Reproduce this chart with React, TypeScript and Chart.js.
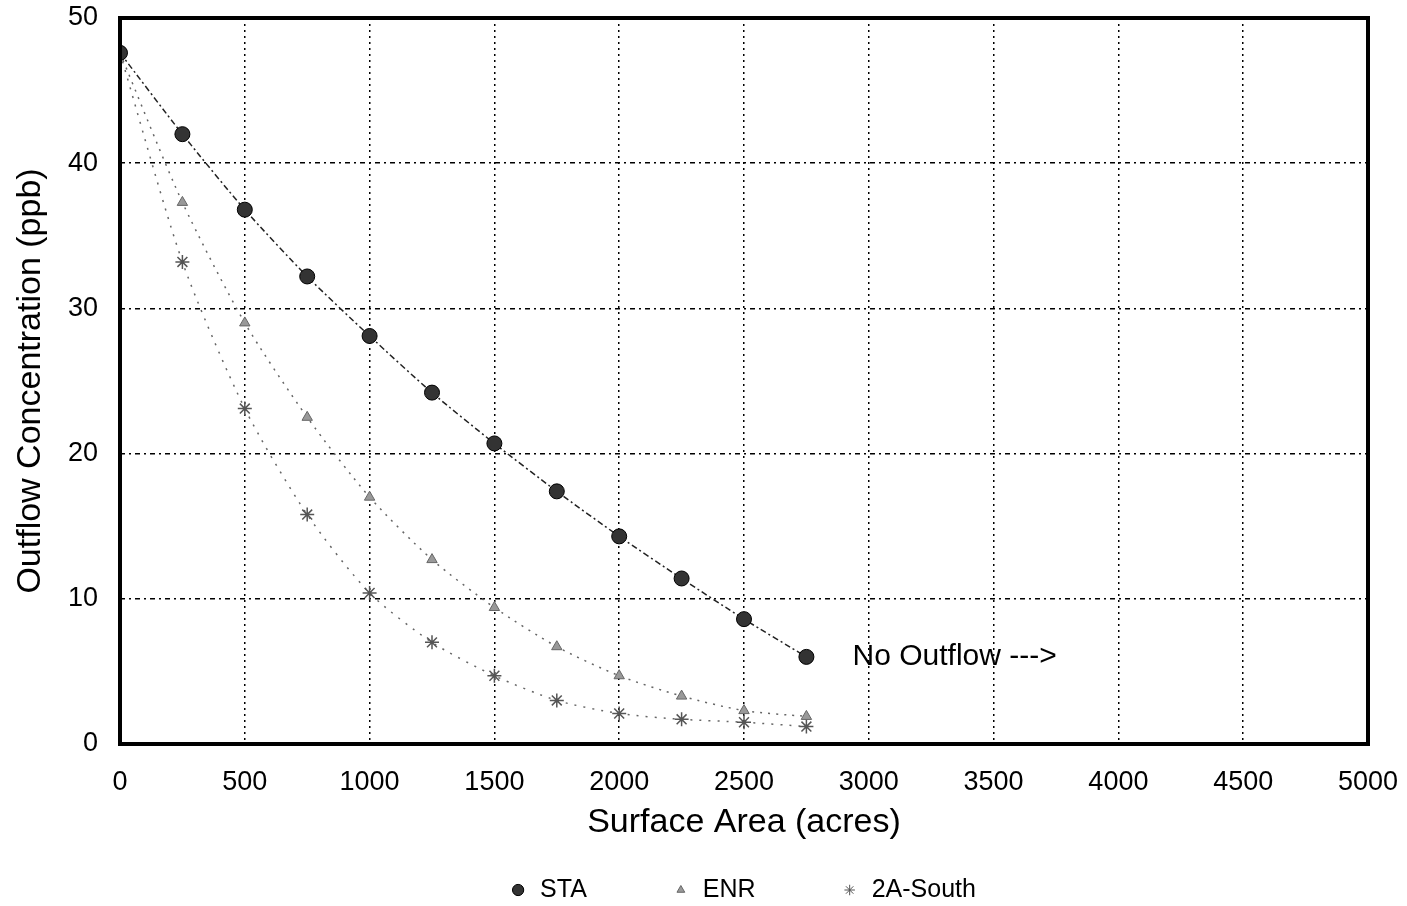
import React, { useEffect, useRef } from "react";
import { Chart, registerables } from "chart.js";
import { drawPoint } from "chart.js/helpers";

Chart.register(...registerables);

const areas = [0, 250, 500, 750, 1000, 1250, 1500, 1750, 2000, 2250, 2500, 2750];
const staValues = [47.6, 42.0, 36.8, 32.2, 28.1, 24.2, 20.7, 17.4, 14.3, 11.4, 8.6, 6.0];
const enrValues = [47.6, 37.3, 29.0, 22.5, 17.0, 12.7, 9.4, 6.7, 4.7, 3.3, 2.3, 1.9];
const southValues = [47.6, 33.2, 23.1, 15.8, 10.4, 7.0, 4.7, 3.0, 2.1, 1.7, 1.5, 1.2];
const seriesLabels = ["STA", "ENR", "2A-South"];
const noOutflowText = "No Outflow --->";
const noOutflowAt = { x: 2935, y: 6.0 };

const FONT = "'Liberation Sans', Arial, sans-serif";

export default function App() {
  const ref = useRef<HTMLCanvasElement | null>(null);

  useEffect(() => {
    if (!ref.current) return;
    const toPts = (vals: number[]) => vals.map((v, i) => ({ x: areas[i], y: v }));

    const framePlugin = {
      id: "frame",
      afterDatasetsDraw(chart: any) {
        const { ctx, chartArea: a } = chart;
        ctx.save();
        ctx.strokeStyle = "#000";
        ctx.lineWidth = 4;
        ctx.strokeRect(a.left, a.top, a.right - a.left, a.bottom - a.top);
        // annotation
        const xs = chart.scales.x;
        const ys = chart.scales.y;
        ctx.fillStyle = "#000";
        ctx.font = `30px ${FONT}`;
        ctx.textAlign = "left";
        ctx.textBaseline = "middle";
        ctx.fillText(noOutflowText, xs.getPixelForValue(noOutflowAt.x), ys.getPixelForValue(noOutflowAt.y));
        // legend
        ctx.font = `25px ${FONT}`;
        const markerHalf = 6;
        const markerToText = 22;
        const itemGap = 94;
        const widths = chart.data.datasets.map((d: any) => markerToText + ctx.measureText(d.label).width);
        const total = markerHalf + widths.reduce((s: number, w: number) => s + w, 0) + itemGap * (widths.length - 1);
        let x = (a.left + a.right) / 2 - total / 2 + markerHalf;
        const y = 890;
        chart.data.datasets.forEach((d: any, i: number) => {
          ctx.save();
          ctx.lineWidth = 1;
          ctx.strokeStyle = d.pointBorderColor;
          ctx.fillStyle = d.pointBackgroundColor;
          ctx.setLineDash([]);
          drawPoint(ctx, { pointStyle: d.pointStyle, radius: d.pointRadius * 0.75, borderWidth: 1, rotation: 0 } as any, x, y);
          ctx.restore();
          ctx.fillStyle = "#000";
          ctx.textAlign = "left";
          ctx.textBaseline = "middle";
          ctx.font = `25px ${FONT}`;
          ctx.fillText(d.label, x + markerToText, y);
          x += widths[i] + itemGap;
        });
        ctx.restore();
      },
    };

    const plain = (v: any) => String(v);

    const chart = new Chart(ref.current, {
      type: "line",
      data: {
        datasets: [
          {
            label: seriesLabels[0],
            data: toPts(staValues),
            borderColor: "#222",
            borderWidth: 1.5,
            borderDash: [6, 3, 2, 3],
            pointStyle: "circle",
            pointRadius: 7.5,
            pointBackgroundColor: "#333",
            pointBorderColor: "#000",
            pointBorderWidth: 1,
            tension: 0.25,
          },
          {
            label: seriesLabels[1],
            data: toPts(enrValues),
            borderColor: "#666",
            borderWidth: 1.5,
            borderDash: [2, 6],
            pointStyle: "triangle",
            pointRadius: 6,
            pointBackgroundColor: "#999",
            pointBorderColor: "#666",
            pointBorderWidth: 1,
            tension: 0.25,
          },
          {
            label: seriesLabels[2],
            data: toPts(southValues),
            borderColor: "#666",
            borderWidth: 1.5,
            borderDash: [2, 7],
            pointStyle: "star",
            pointRadius: 7,
            pointBackgroundColor: "#aaa",
            pointBorderColor: "#555",
            pointBorderWidth: 1.5,
            tension: 0.25,
          },
        ],
      },
      options: {
        responsive: false,
        animation: false,
        layout: { padding: { top: 18, right: 39, bottom: 0, left: 0 } },
        plugins: {
          legend: { display: false },
          tooltip: { enabled: false },
        },
        scales: {
          x: {
            type: "linear",
            min: 0,
            max: 5000,
            afterFit: (s: any) => {
              s.height = 162;
              s.paddingLeft = 0;
              s.paddingRight = 0;
            },
            ticks: {
              stepSize: 500,
              color: "#000",
              font: { family: FONT, size: 27 },
              padding: 22,
              maxRotation: 0,
              autoSkip: false,
              callback: plain,
            },
            grid: {
              color: "#000",
              lineWidth: 1.5,
              drawTicks: false,
            },
            border: { display: false, dash: [2, 4] },
            title: {
              display: true,
              text: "Surface Area (acres)",
              color: "#000",
              font: { family: FONT, size: 34 },
              padding: { top: 0, bottom: 63 },
            },
          },
          y: {
            type: "linear",
            min: 0,
            max: 50,
            afterFit: (s: any) => {
              s.width = 120;
              s.paddingTop = 0;
              s.paddingBottom = 0;
            },
            ticks: {
              stepSize: 10,
              color: "#000",
              font: { family: FONT, size: 27 },
              padding: 22,
              callback: plain,
            },
            grid: {
              color: "#000",
              lineWidth: 1.5,
              drawTicks: false,
            },
            border: { display: false, dash: [5, 4, 2, 4] },
            title: {
              display: true,
              text: "Outflow Concentration (ppb)",
              color: "#000",
              font: { family: FONT, size: 34 },
              padding: { top: 10, bottom: 0 },
            },
          },
        },
      },
      plugins: [framePlugin],
    } as any);

    return () => chart.destroy();
  }, []);

  return (
    <div style={{ position: "fixed", left: 0, top: 0, width: 1407, height: 906, background: "#fff" }}>
      <canvas ref={ref} width={1407} height={906} style={{ display: "block" }} />
    </div>
  );
}
